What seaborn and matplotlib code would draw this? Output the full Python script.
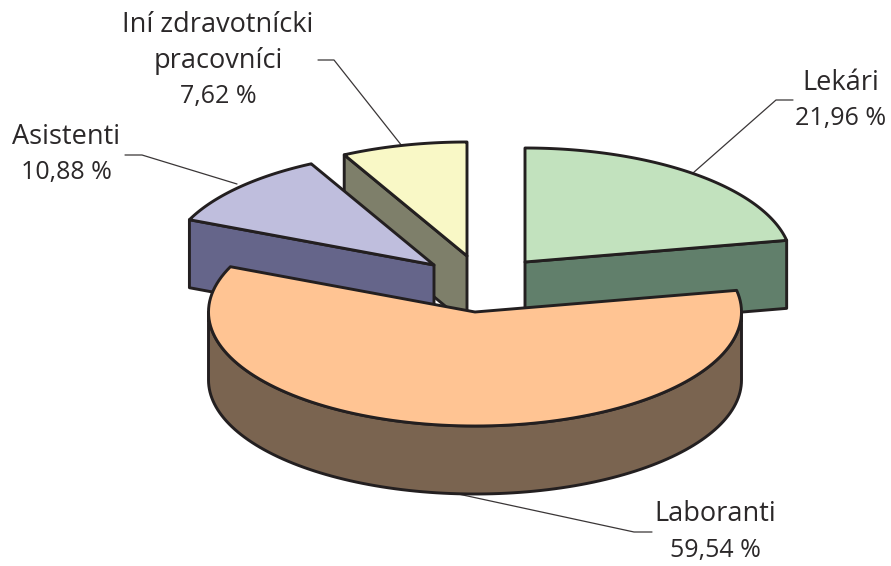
from __future__ import annotations

import matplotlib

matplotlib.use("Agg")
import matplotlib.pyplot as plt
import numpy as np
import seaborn as sns
from matplotlib.patches import Polygon

# shares in %, clockwise from 12 o'clock
categories = ["Lekári", "Laboranti", "Asistenti", "Iní zdravotnícki\npracovníci"]
shares = [21.96, 59.54, 10.88, 7.62]
share_labels = ["21,96 %", "59,54 %", "10,88 %", "7,62 %"]

top_colors = ["#C2E2BE", "#FFC493", "#BFBEDD", "#F9F8C6"]
side_colors = ["#617F6B", "#7A6450", "#65658A", "#7E7F6A"]
apexes = [(525, 262), (475, 312), (434, 265), (467, 256)]
# which radial edge of a slice shows its cut face (None for the big slice)
cut_face = ["end", None, "start", "start"]

RX, RY, DEPTH = 266.5, 114, 68
EDGE = "#231F20"


def rim(apex, a0, a1, n=120):
    t = np.radians(np.linspace(a0, a1, n))
    return np.column_stack([apex[0] + RX * np.sin(t), apex[1] - RY * np.cos(t)])


def add_poly(ax, pts, color, z):
    ax.add_patch(Polygon(pts, closed=True, facecolor=color, edgecolor=EDGE, linewidth=2.1, joinstyle="round", zorder=z))


def draw_slice(ax, i, a0, a1, z):
    apex = np.array(apexes[i], dtype=float)
    down = np.array([0, DEPTH])
    if cut_face[i]:
        ang = a1 if cut_face[i] == "end" else a0
        edge = rim(apex, ang, ang, 1)[0]
        add_poly(ax, [apex, edge, edge + down, apex + down], side_colors[i], z)
    # outer wall for the part of the rim that faces front
    lo, hi = max(a0, 90), min(a1, 270)
    if hi > lo:
        arc = rim(apex, lo, hi)
        add_poly(ax, np.vstack([arc, (arc + down)[::-1]]), side_colors[i], z + 0.1)
    add_poly(ax, np.vstack([apex, rim(apex, a0, a1)]), top_colors[i], z + 0.2)


sns.set_theme(style="white")
plt.rcParams["font.family"] = ["Open Sans", "DejaVu Sans"]

fig, ax = plt.subplots(figsize=(8.91, 5.66), dpi=100)
ax.set_position([0, 0, 1, 1])
ax.set_xlim(0, 891)
ax.set_ylim(566, 0)
ax.axis("off")

edges = np.concatenate([[0], np.cumsum(shares)]) * 3.6
for z, i in enumerate([3, 2, 0, 1]):
    draw_slice(ax, i, edges[i], edges[i + 1], z + 1)

# leader lines
leaders = [
    ([693, 776, 793], [173, 100, 100]),
    ([449, 634, 652], [492, 532, 532]),
    ([237, 142, 125], [184, 155, 155]),
    ([402, 334, 318], [146, 60, 60]),
]
for xs, ys in leaders:
    sns.lineplot(x=xs, y=ys, ax=ax, color="#3A3637", linewidth=0.9, sort=False, estimator=None, zorder=0.5)

label_x = [841, 715, 66, 218]
label_y = [83, 514, 137, 25]
for i in range(4):
    names = categories[i].split("\n")
    for k, line in enumerate(names):
        ax.text(label_x[i], label_y[i] + 36 * k, line, ha="center", va="center", fontsize=19.5, color="#2B2829")
    ax.text(label_x[i], label_y[i] + 36 * len(names), share_labels[i], ha="center", va="center", fontsize=18, color="#2B2829")

fig.savefig("out.png", dpi=100)
